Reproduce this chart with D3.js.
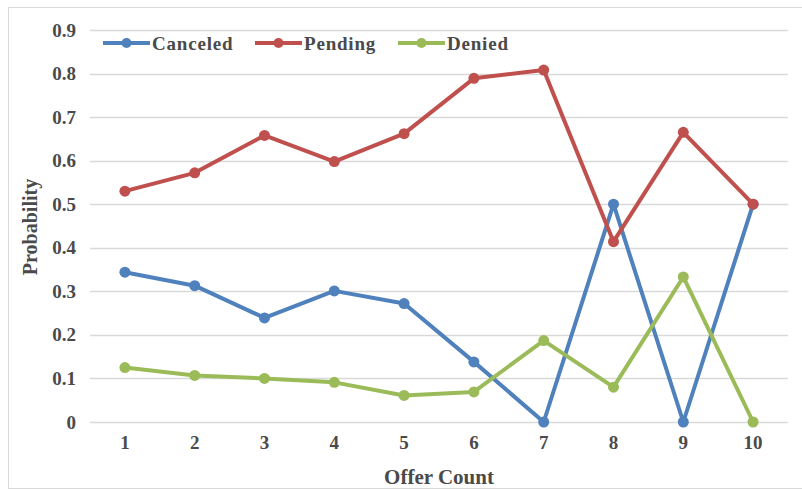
<!DOCTYPE html>
<html>
<head>
<meta charset="utf-8">
<script src="https://cdn.jsdelivr.net/npm/d3@7"></script>
<style>
  body { margin: 0; background: #fff; }
  svg text { font-family: "Liberation Serif", "Times New Roman", serif; }
</style>
</head>
<body>
<svg id="chart" width="802" height="489"></svg>
<script>
// Offer count categories and probability per outcome
const offerCounts = ["1", "2", "3", "4", "5", "6", "7", "8", "9", "10"];
const canceled = [0.344, 0.313, 0.239, 0.301, 0.272, 0.138, 0, 0.5, 0, 0.5];
const pending  = [0.530, 0.572, 0.658, 0.598, 0.662, 0.789, 0.808, 0.414, 0.665, 0.5];
const denied   = [0.125, 0.107, 0.100, 0.091, 0.061, 0.069, 0.187, 0.080, 0.333, 0];
const yTicks = [0, 0.1, 0.2, 0.3, 0.4, 0.5, 0.6, 0.7, 0.8, 0.9];

const series = [
  { name: "Canceled", values: canceled, color: "#4f81bd" },
  { name: "Pending",  values: pending,  color: "#c0504d" },
  { name: "Denied",   values: denied,   color: "#9bbb59" }
];

const svg = d3.select("#chart");
const margin = { left: 90, right: 14, top: 30, bottom: 67 };
const W = 802, H = 489;
const textColor = "#4a4a4a";

// outer chart frame
svg.append("rect")
  .attr("x", 8.5).attr("y", 7.5)
  .attr("width", W - 8).attr("height", H - 8)
  .attr("fill", "none").attr("stroke", "#d9d9d9").attr("stroke-width", 1);

const x = d3.scaleBand().domain(offerCounts).range([margin.left, W - margin.right]);
const y = d3.scaleLinear().domain([0, 0.9]).range([H - margin.bottom, margin.top]);

// horizontal gridlines
svg.append("g").selectAll("line").data(yTicks).join("line")
  .attr("x1", margin.left).attr("x2", W - margin.right)
  .attr("y1", d => Math.round(y(d)) + 0.5).attr("y2", d => Math.round(y(d)) + 0.5)
  .attr("stroke", "#d9d9d9").attr("stroke-width", 1.5);

// y axis labels
const yAxis = svg.append("g")
  .attr("transform", `translate(${margin.left - 14},0)`)
  .call(d3.axisLeft(y).tickValues(yTicks).tickSize(0).tickPadding(0)
    .tickFormat(d => d === 0 ? "0" : d3.format(".1f")(d)));
yAxis.select(".domain").remove();
yAxis.selectAll("text")
  .attr("font-size", 19).attr("font-weight", "bold").attr("fill", textColor)
  .style("font-family", "Liberation Serif, serif");

// x axis labels
const xAxis = svg.append("g")
  .attr("transform", `translate(0,${H - margin.bottom + 13})`)
  .call(d3.axisBottom(x).tickSize(0).tickPadding(0));
xAxis.select(".domain").remove();
xAxis.selectAll("text")
  .attr("font-size", 19).attr("font-weight", "bold").attr("fill", textColor)
  .style("font-family", "Liberation Serif, serif");

// axis titles
svg.append("text")
  .attr("x", (margin.left + W - margin.right) / 2).attr("y", 484)
  .attr("text-anchor", "middle")
  .attr("font-size", 21).attr("font-weight", "bold").attr("fill", textColor)
  .text("Offer Count");

svg.append("text")
  .attr("transform", "translate(37,227) rotate(-90)")
  .attr("text-anchor", "middle")
  .attr("font-size", 20).attr("font-weight", "bold").attr("fill", textColor)
  .text("Probability");

// series lines and markers
const line = d3.line()
  .x((d, i) => x(offerCounts[i]) + x.bandwidth() / 2)
  .y(d => y(d));

series.forEach(s => {
  svg.append("path")
    .datum(s.values)
    .attr("d", line)
    .attr("fill", "none")
    .attr("stroke", s.color)
    .attr("stroke-width", 4)
    .attr("stroke-linejoin", "round");
  svg.append("g").selectAll("circle").data(s.values).join("circle")
    .attr("cx", (d, i) => x(offerCounts[i]) + x.bandwidth() / 2)
    .attr("cy", d => y(d))
    .attr("r", 5.5)
    .attr("fill", s.color);
});

// legend
const legendX = [103, 255, 398];
const legend = svg.append("g");
series.forEach((s, i) => {
  const g = legend.append("g").attr("transform", `translate(${legendX[i]},43)`);
  g.append("line").attr("x1", 0).attr("x2", 47).attr("y1", 0).attr("y2", 0)
    .attr("stroke", s.color).attr("stroke-width", 4);
  g.append("circle").attr("cx", 23.5).attr("cy", 0).attr("r", 5).attr("fill", s.color);
  g.append("text").attr("x", 49).attr("y", 7)
    .attr("font-size", 19).attr("font-weight", "bold").attr("fill", textColor)
    .attr("letter-spacing", 0.8)
    .text(s.name);
});
</script>
</body>
</html>
